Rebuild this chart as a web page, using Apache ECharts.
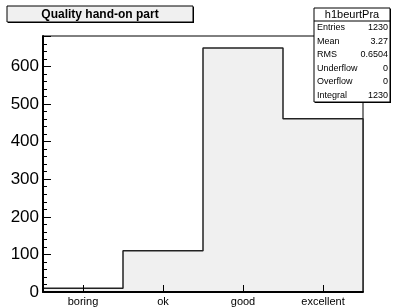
<!DOCTYPE html>
<html>
<head>
<meta charset="utf-8">
<script src="https://cdn.jsdelivr.net/npm/echarts@6/dist/echarts.min.js"></script>
<style>html,body{margin:0;padding:0;background:#fff;}#c{width:393px;height:308px;}</style>
</head>
<body>
<div id="c"></div>
<script>
const categories = ['boring', 'ok', 'good', 'excellent'];
const counts = [10, 110, 649, 461];
const yMax = 681;
const yInterval = 100;
const statNames = ['Entries', 'Mean', 'RMS', 'Underflow', 'Overflow', 'Integral'];
const statValues = ['1230', '3.27', '0.6504', '0', '0', '1230'];
const histName = 'h1beurtPra';
const titleText = 'Quality hand-on part';

const stepPoints = [[0, 0]];
counts.forEach((v, i) => { stepPoints.push([i, v]); stepPoints.push([i + 1, v]); });
stepPoints.push([counts.length, 0]);

const FONT = 'Liberation Sans, Arial, Helvetica, sans-serif';
const graphics = [
  // title box shadow + box
  {type: 'rect', shape: {x: 8, y: 7, width: 186, height: 16}, style: {fill: '#000'}, z: 10},
  {type: 'rect', shape: {x: 7, y: 6, width: 186, height: 16}, style: {fill: '#f0f0f0', stroke: '#000', lineWidth: 1}, z: 11},
  {type: 'text', style: {x: 100, y: 14.5, text: titleText, font: 'bold 12px ' + FONT, fill: '#000', align: 'center', verticalAlign: 'middle'}, z: 12},
  // stats box
  {type: 'rect', shape: {x: 315, y: 9, width: 76, height: 94}, style: {fill: '#000'}, z: 10},
  {type: 'rect', shape: {x: 314, y: 8, width: 76, height: 94}, style: {fill: '#fff', stroke: '#000', lineWidth: 1}, z: 11},
  {type: 'line', shape: {x1: 314, y1: 21, x2: 390, y2: 21}, style: {stroke: '#000', lineWidth: 1}, z: 12},
  {type: 'text', style: {x: 352, y: 14.5, text: histName, font: '11px ' + FONT, fill: '#000', align: 'center', verticalAlign: 'middle'}, z: 12}
];
statNames.forEach((n, i) => {
  const y = 28 + i * 13.5;
  graphics.push({type: 'text', style: {x: 317, y: y, text: n, font: '9px ' + FONT, fill: '#000', align: 'left', verticalAlign: 'middle'}, z: 12});
  graphics.push({type: 'text', style: {x: 388, y: y, text: statValues[i], font: '9px ' + FONT, fill: '#000', align: 'right', verticalAlign: 'middle'}, z: 12});
});

const chart = echarts.init(document.getElementById('c'), null, {renderer: 'canvas'});
chart.setOption({
  animation: false,
  backgroundColor: '#fff',
  grid: {left: 43, right: 30, top: 36, bottom: 16, show: true, borderColor: '#000', borderWidth: 1, backgroundColor: 'transparent'},
  xAxis: [
    {type: 'category', data: categories, boundaryGap: true, z: 5,
     axisLine: {show: true, lineStyle: {color: '#000', width: 2}},
     axisTick: {show: true, inside: true, alignWithLabel: true, length: 7, lineStyle: {color: '#000', width: 1}},
     axisLabel: {fontSize: 11, fontFamily: FONT, color: '#000', margin: 4},
     splitLine: {show: false}},
    {type: 'value', min: 0, max: categories.length, show: false}
  ],
  yAxis: {type: 'value', min: 0, max: yMax, interval: yInterval, z: 5,
    axisLine: {show: true, lineStyle: {color: '#000', width: 2}},
    axisTick: {show: true, inside: true, length: 8, lineStyle: {color: '#000', width: 1}},
    minorTick: {show: true, splitNumber: 5, length: 4, lineStyle: {color: '#000', width: 1}},
    axisLabel: {fontSize: 17, fontFamily: FONT, color: '#000', margin: 4,
      formatter: v => (v % yInterval === 0 ? String(v) : '')},
    splitLine: {show: false}, minorSplitLine: {show: false}},
  series: [{
    type: 'line', xAxisIndex: 1, data: stepPoints, symbol: 'none', z: 1,
    lineStyle: {color: '#222', width: 1.5},
    areaStyle: {color: '#f0f0f0', opacity: 1}
  }],
  graphic: graphics
});
</script>
</body>
</html>
